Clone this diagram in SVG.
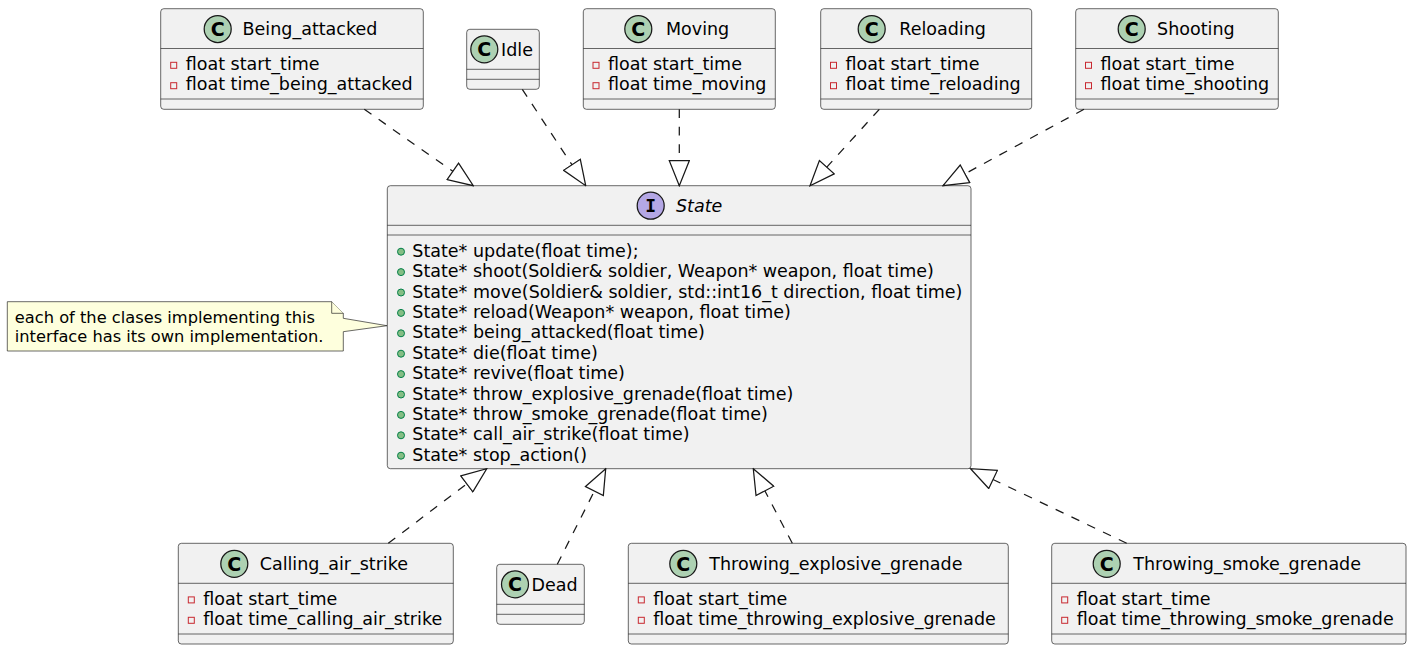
<svg xmlns="http://www.w3.org/2000/svg" width="1414" height="651" viewBox="0 0 1414 651">
<style>
.box{fill:#F1F1F1;stroke:#181818;stroke-width:0.65}
.sep{stroke:#181818;stroke-width:0.65}
.ic{fill:#ADD1B2;stroke:#181818;stroke-width:1.25}
.ii{fill:#B4A7E5;stroke:#181818;stroke-width:1.25}
.gl{font-family:"DejaVu Sans",sans-serif;font-weight:bold;font-size:19px;fill:#000;text-anchor:middle}
.gi{font-family:"DejaVu Sans Mono","Liberation Mono",monospace;font-weight:bold;font-size:18px;fill:#000;text-anchor:middle}
.nm{font-family:"DejaVu Sans",sans-serif;font-size:17.5px;fill:#000}
.it{font-style:italic}
.mb{font-family:"DejaVu Sans",sans-serif;font-size:17.5px;fill:#000}
.pv{fill:none;stroke:#C82930;stroke-width:1}
.pb{fill:#84BE84;stroke:#038048;stroke-width:1}
.note{fill:#FEFFDD;stroke:#181818;stroke-width:0.65}
.nt{font-family:"DejaVu Sans",sans-serif;font-size:16.25px;fill:#000}
.lk{fill:none;stroke:#181818;stroke-width:1.25;stroke-dasharray:8.75,8.75}
</style>
<defs>
<marker id="ext" viewBox="0 0 27 22" refX="26" refY="11" markerWidth="27" markerHeight="22" orient="auto" markerUnits="userSpaceOnUse">
<path d="M1,1 L26,11 L1,21 Z" fill="#FFFFFF" stroke="#181818" stroke-width="1.25" stroke-dasharray="none"/>
</marker>
</defs>
<rect width="1414" height="651" fill="#FFFFFF"/>

<g id="Being_attacked">
<rect class="box" x="160.7" y="8.7" width="262.6" height="100.6" rx="3.1"/>
<circle class="ic" cx="217.7" cy="29" r="13.5"/><text class="gl" x="217.7" y="36">C</text>
<text class="nm" x="242.6" y="35">Being_attacked</text>
<line class="sep" x1="160.7" y1="48.5" x2="423.3" y2="48.5"/>
<rect class="pv" x="170.7" y="62.3" width="6" height="6"/><text class="mb" x="185.7" y="70">float start_time</text>
<rect class="pv" x="170.7" y="82.7" width="6" height="6"/><text class="mb" x="185.7" y="90.4">float time_being_attacked</text>
<line class="sep" x1="160.7" y1="99" x2="423.3" y2="99"/>
</g>

<g id="Idle">
<rect class="box" x="466.7" y="29.3" width="72.6" height="60" rx="3.1"/>
<circle class="ic" cx="484.3" cy="49.3" r="13.5"/><text class="gl" x="484.3" y="56.3">C</text>
<text class="nm" x="501" y="55.6">Idle</text>
<line class="sep" x1="466.7" y1="69.3" x2="539.3" y2="69.3"/>
<line class="sep" x1="466.7" y1="79.3" x2="539.3" y2="79.3"/>
</g>

<g id="Moving">
<rect class="box" x="583.3" y="8.7" width="192" height="100.6" rx="3.1"/>
<circle class="ic" cx="638.3" cy="29" r="13.5"/><text class="gl" x="638.3" y="36">C</text>
<text class="nm" x="666" y="35">Moving</text>
<line class="sep" x1="583.3" y1="48.5" x2="775.3" y2="48.5"/>
<rect class="pv" x="593" y="62.3" width="6" height="6"/><text class="mb" x="608" y="70">float start_time</text>
<rect class="pv" x="593" y="82.7" width="6" height="6"/><text class="mb" x="608" y="90.4">float time_moving</text>
<line class="sep" x1="583.3" y1="99" x2="775.3" y2="99"/>
</g>

<g id="Reloading">
<rect class="box" x="820.7" y="8.7" width="211" height="100.6" rx="3.1"/>
<circle class="ic" cx="871.7" cy="29" r="13.5"/><text class="gl" x="871.7" y="36">C</text>
<text class="nm" x="899.3" y="35">Reloading</text>
<line class="sep" x1="820.7" y1="48.5" x2="1031.7" y2="48.5"/>
<rect class="pv" x="830.5" y="62.3" width="6" height="6"/><text class="mb" x="845.5" y="70">float start_time</text>
<rect class="pv" x="830.5" y="82.7" width="6" height="6"/><text class="mb" x="845.5" y="90.4">float time_reloading</text>
<line class="sep" x1="820.7" y1="99" x2="1031.7" y2="99"/>
</g>

<g id="Shooting">
<rect class="box" x="1075.7" y="8.7" width="202.6" height="100.6" rx="3.1"/>
<circle class="ic" cx="1131.7" cy="29" r="13.5"/><text class="gl" x="1131.7" y="36">C</text>
<text class="nm" x="1157.1" y="35">Shooting</text>
<line class="sep" x1="1075.7" y1="48.5" x2="1278.3" y2="48.5"/>
<rect class="pv" x="1085.5" y="62.3" width="6" height="6"/><text class="mb" x="1100.5" y="70">float start_time</text>
<rect class="pv" x="1085.5" y="82.7" width="6" height="6"/><text class="mb" x="1100.5" y="90.4">float time_shooting</text>
<line class="sep" x1="1075.7" y1="99" x2="1278.3" y2="99"/>
</g>

<g id="State">
<rect class="box" x="387.3" y="185.7" width="583.7" height="283" rx="3.1"/>
<circle class="ii" cx="650.7" cy="205.7" r="13.5"/><text class="gi" x="650.7" y="212">I</text>
<text class="nm it" x="676" y="212">State</text>
<line class="sep" x1="387.3" y1="225.3" x2="971" y2="225.3"/>
<line class="sep" x1="387.3" y1="235" x2="971" y2="235"/>
<circle class="pb" cx="401" cy="251.7" r="3.5"/><text class="mb" x="412.3" y="256.7">State* update(float time);</text>
<circle class="pb" cx="401" cy="272.1" r="3.5"/><text class="mb" x="412.3" y="277.1">State* shoot(Soldier&amp; soldier, Weapon* weapon, float time)</text>
<circle class="pb" cx="401" cy="292.5" r="3.5"/><text class="mb" x="412.3" y="297.5">State* move(Soldier&amp; soldier, std::int16_t direction, float time)</text>
<circle class="pb" cx="401" cy="312.9" r="3.5"/><text class="mb" x="412.3" y="317.9">State* reload(Weapon* weapon, float time)</text>
<circle class="pb" cx="401" cy="333.3" r="3.5"/><text class="mb" x="412.3" y="338.3">State* being_attacked(float time)</text>
<circle class="pb" cx="401" cy="353.7" r="3.5"/><text class="mb" x="412.3" y="358.7">State* die(float time)</text>
<circle class="pb" cx="401" cy="374.1" r="3.5"/><text class="mb" x="412.3" y="379.1">State* revive(float time)</text>
<circle class="pb" cx="401" cy="394.5" r="3.5"/><text class="mb" x="412.3" y="399.5">State* throw_explosive_grenade(float time)</text>
<circle class="pb" cx="401" cy="414.9" r="3.5"/><text class="mb" x="412.3" y="419.9">State* throw_smoke_grenade(float time)</text>
<circle class="pb" cx="401" cy="435.3" r="3.5"/><text class="mb" x="412.3" y="440.3">State* call_air_strike(float time)</text>
<circle class="pb" cx="401" cy="455.7" r="3.5"/><text class="mb" x="412.3" y="460.7">State* stop_action()</text>
</g>

<g id="note">
<path class="note" d="M7.3,301.7 L331.7,301.7 L343.3,313.3 L343.3,318.3 L387,325.7 L343.3,331.7 L343.3,351 L7.3,351 Z"/>
<path class="note" d="M331.7,301.7 L331.7,313.3 L343.3,313.3"/>
<text class="nt" x="14.8" y="322.7">each of the clases implementing this</text>
<text class="nt" x="14.8" y="342.3">interface has its own implementation.</text>
</g>

<g id="Calling_air_strike">
<rect class="box" x="178.3" y="543.3" width="275" height="100.7" rx="3.1"/>
<circle class="ic" cx="234.3" cy="563.8" r="13.5"/><text class="gl" x="234.3" y="570.8">C</text>
<text class="nm" x="259.7" y="569.7">Calling_air_strike</text>
<line class="sep" x1="178.3" y1="583.3" x2="453.3" y2="583.3"/>
<rect class="pv" x="188.3" y="596.9" width="6" height="6"/><text class="mb" x="203.3" y="604.6">float start_time</text>
<rect class="pv" x="188.3" y="617.3" width="6" height="6"/><text class="mb" x="203.3" y="625">float time_calling_air_strike</text>
<line class="sep" x1="178.3" y1="634" x2="453.3" y2="634"/>
</g>

<g id="Dead">
<rect class="box" x="496.7" y="564.3" width="87.6" height="60" rx="3.1"/>
<circle class="ic" cx="515" cy="584.3" r="13.5"/><text class="gl" x="515" y="591.3">C</text>
<text class="nm" x="531.6" y="590.6">Dead</text>
<line class="sep" x1="496.7" y1="604.3" x2="584.3" y2="604.3"/>
<line class="sep" x1="496.7" y1="614.3" x2="584.3" y2="614.3"/>
</g>

<g id="Throwing_explosive_grenade">
<rect class="box" x="628.3" y="543.3" width="380" height="100.7" rx="3.1"/>
<circle class="ic" cx="683.3" cy="563.8" r="13.5"/><text class="gl" x="683.3" y="570.8">C</text>
<text class="nm" x="709.3" y="569.7">Throwing_explosive_grenade</text>
<line class="sep" x1="628.3" y1="583.3" x2="1008.3" y2="583.3"/>
<rect class="pv" x="638.3" y="596.9" width="6" height="6"/><text class="mb" x="653.3" y="604.6">float start_time</text>
<rect class="pv" x="638.3" y="617.3" width="6" height="6"/><text class="mb" x="653.3" y="625">float time_throwing_explosive_grenade</text>
<line class="sep" x1="628.3" y1="634" x2="1008.3" y2="634"/>
</g>

<g id="Throwing_smoke_grenade">
<rect class="box" x="1051.7" y="543.3" width="354.3" height="100.7" rx="3.1"/>
<circle class="ic" cx="1106.7" cy="563.8" r="13.5"/><text class="gl" x="1106.7" y="570.8">C</text>
<text class="nm" x="1133.3" y="569.7">Throwing_smoke_grenade</text>
<line class="sep" x1="1051.7" y1="583.3" x2="1406" y2="583.3"/>
<rect class="pv" x="1061.7" y="596.9" width="6" height="6"/><text class="mb" x="1076.7" y="604.6">float start_time</text>
<rect class="pv" x="1061.7" y="617.3" width="6" height="6"/><text class="mb" x="1076.7" y="625">float time_throwing_smoke_grenade</text>
<line class="sep" x1="1051.7" y1="634" x2="1406" y2="634"/>
</g>

<g id="connectors">
<path class="lk" d="M364.3,109.3 L473.3,185.7" marker-end="url(#ext)"/>
<path class="lk" d="M522.3,89.3 L585.7,185.7" marker-end="url(#ext)"/>
<path class="lk" d="M679.3,109.3 L679.3,185.7" marker-end="url(#ext)"/>
<path class="lk" d="M879.3,109.3 L810,185.7" marker-end="url(#ext)"/>
<path class="lk" d="M1084,109.3 L943,185.7" marker-end="url(#ext)"/>
<path class="lk" d="M388.3,543.3 L486.7,468.7" marker-end="url(#ext)"/>
<path class="lk" d="M557.3,564.3 L605.7,468.7" marker-end="url(#ext)"/>
<path class="lk" d="M792.3,543.3 L753.3,468.7" marker-end="url(#ext)"/>
<path class="lk" d="M1126.7,543.3 L970.5,468.7" marker-end="url(#ext)"/>
</g>
</svg>
